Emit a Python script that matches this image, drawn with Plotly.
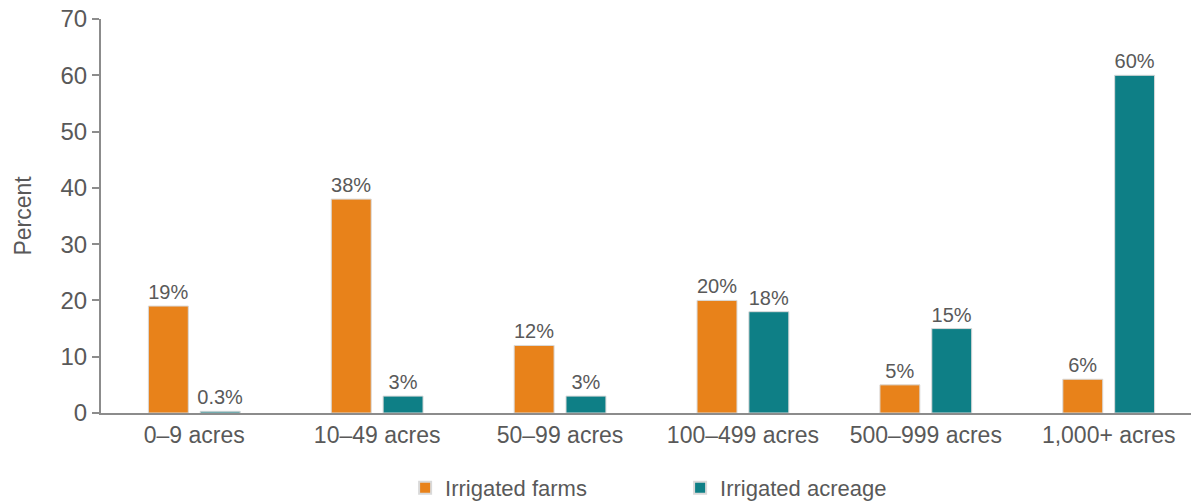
import plotly.graph_objects as go

# Farm size classes and shares of irrigated farms / irrigated acreage (percent)
categories = ["0–9 acres", "10–49 acres", "50–99 acres", "100–499 acres", "500–999 acres", "1,000+ acres"]
irrigated_farms = [19, 38, 12, 20, 5, 6]
irrigated_acreage = [0.3, 3, 3, 18, 15, 60]
y_ticks = [0, 10, 20, 30, 40, 50, 60, 70]

ORANGE = "#E8821A"
TEAL = "#0E7F86"
TEXT = "#595959"
AXIS = "#8C8C8C"
FONT = "Liberation Sans, Arial, sans-serif"


def pct_label(v):
    return f"{v:g}%"


fig = go.Figure()
fig.add_trace(go.Bar(
    name="Irrigated farms",
    x=categories,
    y=irrigated_farms,
    marker=dict(color=ORANGE, line=dict(color="#D9D9D9", width=1)),
    text=[pct_label(v) for v in irrigated_farms],
    textposition="outside",
    constraintext="none",
    textfont=dict(size=20, color=TEXT, family=FONT),
    cliponaxis=False,
))
fig.add_trace(go.Bar(
    name="Irrigated acreage",
    x=categories,
    y=irrigated_acreage,
    marker=dict(color=TEAL, line=dict(color="#D9D9D9", width=1)),
    text=[pct_label(v) for v in irrigated_acreage],
    textposition="outside",
    constraintext="none",
    textfont=dict(size=20, color=TEXT, family=FONT),
    cliponaxis=False,
))

fig.update_layout(
    width=1191,
    height=504,
    margin=dict(l=101, r=0, t=19, b=91, autoexpand=False),
    paper_bgcolor="white",
    plot_bgcolor="white",
    font=dict(family=FONT, color=TEXT, size=23),
    barmode="group",
    bargap=0.433,
    bargroupgap=0.23,
    showlegend=True,
    legend=dict(
        orientation="h",
        x=0.279,
        xanchor="left",
        y=-0.19,
        yanchor="middle",
        font=dict(size=22, color=TEXT, family=FONT),
        entrywidth=230,
        entrywidthmode="pixels",
        itemsizing="constant",
        traceorder="normal",
    ),
    uniformtext=dict(mode=False),
)

fig.update_xaxes(
    range=[-0.51, 5.45],
    showline=True,
    linecolor=AXIS,
    linewidth=2,
    ticks="",
    showgrid=False,
    tickfont=dict(size=23, color=TEXT, family=FONT),
)

fig.update_yaxes(
    range=[0, 70],
    tickvals=y_ticks,
    ticktext=[str(v) for v in y_ticks],
    showline=True,
    linecolor=AXIS,
    linewidth=2,
    ticks="outside",
    ticklen=7,
    tickwidth=2,
    tickcolor=AXIS,
    showgrid=False,
    zeroline=False,
    tickfont=dict(size=24, color=TEXT, family=FONT),
    title=dict(text="Percent", font=dict(size=23, color=TEXT, family=FONT), standoff=22),
)

fig.write_html("out.html")
